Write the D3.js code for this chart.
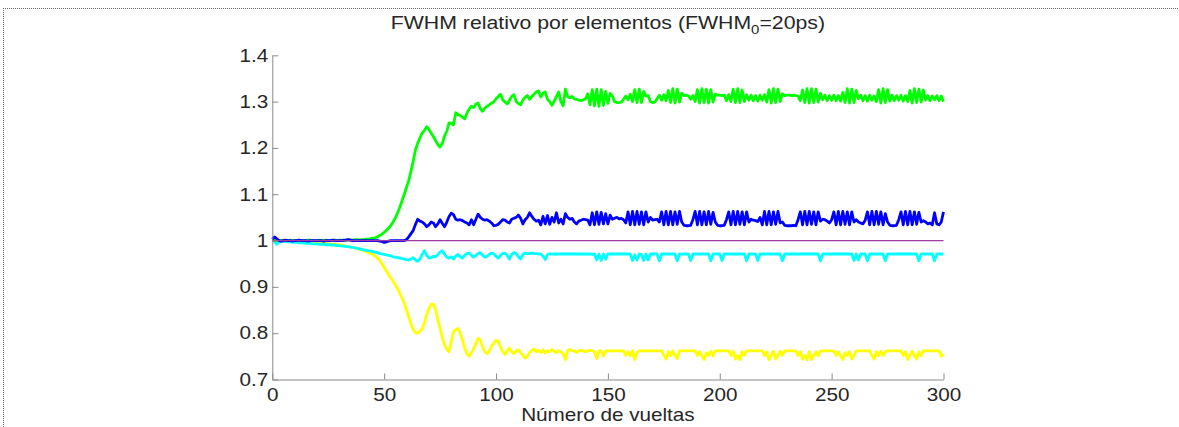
<!DOCTYPE html>
<html>
<head>
<meta charset="utf-8">
<script src="https://cdn.jsdelivr.net/npm/d3@7"></script>
<style>
  body { margin: 0; background: #fff; }
  svg text { font-family: "Liberation Sans", Arial, sans-serif; fill: #262626; }
</style>
</head>
<body>
<div id="chart"></div>
<script>
// vueltas 0..300
const turns = d3.range(0, 301);

const green = [
  1.000,1.001,1.001,1.000,1.000,1.001,1.000,1.000,1.001,1.000,
  1.000,1.000,1.001,1.000,1.000,1.000,1.001,1.001,1.000,1.000,
  1.000,1.001,1.000,1.000,1.001,1.000,1.000,1.001,1.001,1.000,
  1.001,1.001,1.000,1.001,1.002,1.001,1.001,1.002,1.002,1.001,
  1.002,1.002,1.003,1.003,1.004,1.005,1.006,1.008,1.011,1.014,
  1.018,1.022,1.027,1.033,1.040,1.049,1.060,1.072,1.086,1.100,
  1.115,1.130,1.150,1.172,1.196,1.210,1.222,1.232,1.238,1.246,
  1.240,1.232,1.224,1.216,1.207,1.202,1.210,1.226,1.236,1.254,
  1.253,1.250,1.276,1.272,1.270,1.266,1.263,1.275,1.284,1.290,
  1.287,1.295,1.297,1.284,1.279,1.286,1.290,1.293,1.297,1.299,
  1.306,1.311,1.316,1.304,1.299,1.295,1.303,1.311,1.315,1.300,
  1.296,1.293,1.303,1.309,1.313,1.305,1.311,1.316,1.321,1.323,
  1.310,1.318,1.321,1.305,1.300,1.292,1.301,1.311,1.321,1.300,
  1.291,1.327,1.311,1.308,1.311,1.306,1.305,1.303,1.302,1.304,
  1.306,1.317,1.293,1.326,1.291,1.327,1.290,1.326,1.292,1.322,
  1.296,1.318,1.312,1.300,1.298,1.298,1.299,1.305,1.312,1.304,
  1.316,1.300,1.326,1.298,1.327,1.298,1.322,1.312,1.313,1.300,
  1.298,1.299,1.306,1.314,1.303,1.315,1.302,1.324,1.298,1.328,
  1.297,1.327,1.299,1.318,1.313,1.314,1.312,1.305,1.313,1.300,
  1.326,1.297,1.328,1.298,1.327,1.297,1.326,1.299,1.316,1.314,
  1.314,1.313,1.314,1.302,1.315,1.300,1.327,1.298,1.328,1.298,
  1.325,1.300,1.315,1.303,1.314,1.302,1.313,1.301,1.314,1.303,
  1.315,1.299,1.326,1.297,1.328,1.298,1.327,1.300,1.317,1.313,
  1.314,1.314,1.313,1.314,1.313,1.312,1.302,1.325,1.298,1.328,
  1.297,1.328,1.298,1.327,1.299,1.318,1.304,1.314,1.302,1.313,
  1.303,1.314,1.302,1.313,1.301,1.320,1.298,1.328,1.297,1.327,
  1.298,1.324,1.306,1.314,1.302,1.313,1.301,1.314,1.303,1.312,
  1.300,1.326,1.297,1.328,1.298,1.326,1.301,1.314,1.302,1.313,
  1.303,1.314,1.301,1.313,1.300,1.324,1.297,1.328,1.298,1.327,
  1.299,1.325,1.303,1.313,1.302,1.312,1.304,1.313,1.302,1.312,
  1.300
];

const blue = [
  1.003,1.008,1.004,1.000,0.999,1.000,1.001,1.000,1.000,0.999,
  1.000,1.000,1.001,1.000,1.000,1.000,0.999,1.000,1.000,1.000,
  1.000,1.000,1.000,0.999,1.000,1.000,1.000,1.001,1.000,1.000,
  1.000,1.000,1.001,1.001,1.002,1.001,1.000,1.000,1.000,1.000,
  1.000,1.000,1.000,1.000,1.000,1.000,1.000,1.000,0.999,0.998,
  0.996,0.997,0.999,1.000,1.000,1.000,1.000,1.000,1.000,1.000,
  1.002,1.008,1.015,1.022,1.035,1.046,1.042,1.040,1.036,1.030,
  1.034,1.040,1.038,1.030,1.036,1.045,1.037,1.030,1.040,1.052,
  1.059,1.056,1.046,1.044,1.045,1.043,1.040,1.038,1.034,1.045,
  1.034,1.046,1.057,1.050,1.046,1.044,1.045,1.042,1.038,1.032,
  1.033,1.035,1.040,1.045,1.044,1.040,1.038,1.046,1.048,1.050,
  1.055,1.048,1.036,1.045,1.050,1.060,1.052,1.046,1.042,1.044,
  1.034,1.052,1.036,1.054,1.035,1.050,1.040,1.060,1.038,1.046,
  1.036,1.058,1.050,1.046,1.048,1.040,1.036,1.042,1.044,1.046,
  1.045,1.044,1.034,1.060,1.034,1.062,1.035,1.061,1.036,1.058,
  1.036,1.055,1.046,1.048,1.050,1.047,1.048,1.045,1.038,1.062,
  1.034,1.063,1.034,1.063,1.035,1.062,1.034,1.062,1.040,1.050,
  1.044,1.045,1.046,1.040,1.062,1.034,1.063,1.034,1.063,1.034,
  1.062,1.035,1.063,1.040,1.033,1.032,1.032,1.033,1.045,1.063,
  1.034,1.063,1.034,1.062,1.034,1.063,1.035,1.061,1.040,1.033,
  1.032,1.032,1.033,1.045,1.062,1.034,1.063,1.034,1.063,1.035,
  1.062,1.034,1.062,1.040,1.046,1.044,1.043,1.041,1.050,1.034,
  1.063,1.034,1.063,1.034,1.062,1.035,1.063,1.038,1.040,1.033,
  1.032,1.032,1.032,1.033,1.032,1.045,1.062,1.034,1.063,1.034,
  1.063,1.035,1.062,1.034,1.062,1.042,1.046,1.045,1.042,1.038,
  1.045,1.062,1.034,1.063,1.034,1.063,1.035,1.062,1.034,1.062,
  1.040,1.045,1.040,1.038,1.036,1.044,1.062,1.034,1.063,1.034,
  1.063,1.035,1.062,1.034,1.058,1.040,1.033,1.032,1.032,1.033,
  1.045,1.062,1.034,1.063,1.034,1.063,1.034,1.062,1.035,1.061,
  1.040,1.043,1.040,1.036,1.038,1.034,1.060,1.036,1.034,1.040,
  1.062
];

const cyan = [
  1.000,0.998,0.992,0.997,0.999,0.998,0.998,0.997,0.997,0.996,
  0.996,0.996,0.995,0.995,0.995,0.994,0.994,0.994,0.993,0.993,
  0.993,0.992,0.992,0.992,0.991,0.991,0.991,0.990,0.990,0.989,
  0.989,0.988,0.988,0.987,0.987,0.986,0.985,0.984,0.983,0.982,
  0.981,0.980,0.979,0.978,0.977,0.976,0.975,0.974,0.972,0.971,
  0.970,0.969,0.968,0.967,0.965,0.964,0.963,0.962,0.961,0.960,
  0.959,0.958,0.960,0.963,0.958,0.955,0.960,0.970,0.978,0.968,
  0.962,0.963,0.966,0.965,0.970,0.975,0.978,0.970,0.964,0.962,
  0.965,0.960,0.967,0.970,0.965,0.962,0.968,0.972,0.973,0.968,
  0.964,0.968,0.972,0.974,0.968,0.964,0.966,0.970,0.973,0.972,
  0.966,0.962,0.968,0.972,0.973,0.968,0.960,0.970,0.974,0.972,
  0.965,0.960,0.970,0.973,0.972,0.972,0.973,0.972,0.972,0.971,
  0.971,0.966,0.959,0.970,0.971,0.971,0.971,0.971,0.971,0.971,
  0.971,0.971,0.971,0.971,0.971,0.971,0.971,0.971,0.971,0.971,
  0.971,0.971,0.971,0.970,0.971,0.958,0.971,0.957,0.971,0.960,
  0.971,0.971,0.971,0.971,0.971,0.971,0.971,0.971,0.971,0.971,
  0.971,0.957,0.969,0.958,0.971,0.970,0.957,0.971,0.958,0.971,
  0.971,0.971,0.971,0.956,0.971,0.971,0.971,0.971,0.971,0.971,
  0.971,0.956,0.971,0.970,0.971,0.971,0.971,0.957,0.971,0.971,
  0.971,0.971,0.971,0.971,0.971,0.971,0.956,0.971,0.971,0.971,
  0.971,0.957,0.971,0.971,0.971,0.971,0.971,0.971,0.971,0.971,
  0.971,0.971,0.956,0.971,0.971,0.971,0.971,0.957,0.971,0.971,
  0.971,0.971,0.971,0.971,0.971,0.971,0.971,0.971,0.956,0.971,
  0.971,0.971,0.971,0.971,0.971,0.971,0.971,0.971,0.971,0.971,
  0.971,0.971,0.971,0.971,0.971,0.956,0.971,0.971,0.971,0.971,
  0.971,0.971,0.971,0.971,0.971,0.971,0.971,0.971,0.971,0.971,
  0.957,0.971,0.958,0.971,0.971,0.971,0.956,0.971,0.971,0.971,
  0.971,0.971,0.971,0.971,0.956,0.971,0.971,0.971,0.971,0.971,
  0.971,0.971,0.971,0.971,0.971,0.971,0.971,0.971,0.971,0.956,
  0.971,0.971,0.971,0.971,0.971,0.971,0.956,0.971,0.971,0.971,
  0.971
];

const yellow = [
  1.000,0.999,1.000,0.999,0.999,0.999,0.999,0.998,0.998,0.998,
  0.998,0.998,0.997,0.997,0.997,0.997,0.996,0.996,0.996,0.995,
  0.995,0.995,0.994,0.994,0.994,0.993,0.993,0.992,0.992,0.991,
  0.991,0.990,0.989,0.988,0.987,0.986,0.985,0.984,0.983,0.981,
  0.980,0.978,0.976,0.974,0.972,0.970,0.966,0.962,0.957,0.950,
  0.942,0.934,0.926,0.919,0.912,0.904,0.896,0.886,0.876,0.864,
  0.850,0.835,0.820,0.808,0.801,0.800,0.805,0.809,0.822,0.840,
  0.853,0.862,0.863,0.850,0.828,0.811,0.790,0.775,0.765,0.760,
  0.782,0.803,0.808,0.810,0.800,0.785,0.768,0.755,0.750,0.758,
  0.766,0.778,0.789,0.785,0.770,0.760,0.756,0.762,0.772,0.778,
  0.785,0.782,0.770,0.760,0.754,0.762,0.768,0.760,0.756,0.762,
  0.764,0.758,0.752,0.746,0.750,0.758,0.762,0.766,0.760,0.763,
  0.758,0.764,0.757,0.762,0.760,0.765,0.761,0.758,0.762,0.760,
  0.756,0.743,0.762,0.765,0.762,0.762,0.758,0.762,0.763,0.762,
  0.760,0.762,0.763,0.762,0.760,0.745,0.762,0.762,0.750,0.762,
  0.762,0.762,0.762,0.762,0.762,0.762,0.762,0.762,0.752,0.760,
  0.751,0.762,0.743,0.758,0.762,0.762,0.762,0.762,0.762,0.762,
  0.762,0.762,0.762,0.762,0.762,0.752,0.744,0.760,0.751,0.762,
  0.752,0.745,0.762,0.762,0.762,0.762,0.762,0.762,0.762,0.762,
  0.752,0.760,0.751,0.743,0.758,0.752,0.761,0.751,0.762,0.762,
  0.762,0.762,0.762,0.762,0.762,0.752,0.761,0.744,0.752,0.743,
  0.760,0.752,0.762,0.762,0.762,0.762,0.762,0.762,0.762,0.762,
  0.752,0.760,0.743,0.752,0.761,0.744,0.752,0.761,0.752,0.762,
  0.762,0.762,0.762,0.762,0.762,0.752,0.760,0.744,0.752,0.743,
  0.760,0.743,0.752,0.760,0.751,0.762,0.762,0.762,0.762,0.762,
  0.762,0.762,0.752,0.760,0.751,0.743,0.758,0.752,0.760,0.744,
  0.752,0.762,0.762,0.762,0.762,0.762,0.762,0.762,0.752,0.744,
  0.760,0.751,0.761,0.752,0.760,0.762,0.762,0.762,0.762,0.762,
  0.762,0.762,0.752,0.760,0.743,0.752,0.761,0.752,0.744,0.760,
  0.751,0.762,0.762,0.762,0.762,0.762,0.762,0.762,0.762,0.750,
  0.755
];

// referencia (linea morada constante)
const refTurns = [0, 300];
const purple = [1, 1];

const xTicks = [0, 50, 100, 150, 200, 250, 300];
const yTicks = [0.7, 0.8, 0.9, 1.0, 1.1, 1.2, 1.3, 1.4];

const width = 1179, height = 427;
const stretch = 1.15;

const svg = d3.select("#chart").append("svg")
    .attr("width", width)
    .attr("height", height);

// marco punteado
svg.append("line")
    .attr("x1", 3).attr("x2", width).attr("y1", 8.5).attr("y2", 8.5)
    .style("stroke", "#666").style("stroke-dasharray", "1,1");
svg.append("line")
    .attr("x1", 3.5).attr("x2", 3.5).attr("y1", 8).attr("y2", height)
    .style("stroke", "#666").style("stroke-dasharray", "1,1");

const x = d3.scaleLinear().domain([0, 300]).range([272.3, 943.5]);
const y = d3.scaleLinear().domain([0.7, 1.4]).range([379.5, 55.3]);

const line = d3.line()
    .x(d => x(d[0]))
    .y(d => y(d[1]));

const series = [
    { name: "yellow", color: "#ffff00", w: 2.8, xs: turns, ys: yellow },
    { name: "cyan", color: "#00ffff", w: 2.8, xs: turns, ys: cyan },
    { name: "green", color: "#00ff00", w: 2.8, xs: turns, ys: green },
    { name: "blue", color: "#0000ff", w: 2.8, xs: turns, ys: blue },
    { name: "purple", color: "#a03ca0", w: 1.3, xs: refTurns, ys: purple }
];

svg.selectAll(".serie")
    .data(series)
    .enter()
    .append("path")
    .attr("class", "serie")
    .attr("d", s => line(s.xs.map((t, i) => [t, s.ys[i]])))
    .style("fill", "none")
    .style("stroke", s => s.color)
    .style("stroke-width", s => s.w)
    .style("stroke-linejoin", "round");

// ejes
const fmt = d => (d === 1 ? "1" : d3.format(".1f")(d));

const gx = svg.append("g")
    .attr("transform", `translate(0,${y.range()[0]})`)
    .call(d3.axisBottom(x).tickValues(xTicks).tickSizeInner(-6).tickSizeOuter(0).tickPadding(9));

const gy = svg.append("g")
    .attr("transform", `translate(${x.range()[0]},0)`)
    .call(d3.axisLeft(y).tickValues(yTicks).tickFormat(fmt).tickSizeInner(-6).tickSizeOuter(0).tickPadding(4));

[gx, gy].forEach(g => {
    g.select(".domain").style("stroke", "#8a8a8a");
    g.selectAll(".tick line").style("stroke", "#8a8a8a");
    g.selectAll(".tick text")
        .style("font-size", "18px")
        .style("fill", "#262626")
        .attr("font-family", null);
});

// estirar los textos en horizontal como en la figura original
svg.selectAll(".tick text").each(function () {
    const t = d3.select(this);
    const tx = +t.attr("x") || 0;
    const ty = +t.attr("y") || 0;
    t.attr("x", 0).attr("y", 0)
        .attr("transform", `translate(${tx},${ty}) scale(${stretch},1)`);
});

const cx = (x.range()[0] + x.range()[1]) / 2;

const title = svg.append("text")
    .attr("text-anchor", "middle")
    .attr("transform", `translate(${cx},29) scale(${stretch},1)`)
    .style("font-size", "18.5px");
title.append("tspan").text("FWHM relativo por elementos (FWHM");
title.append("tspan").attr("dy", 5).style("font-size", "13px").text("0");
title.append("tspan").attr("dy", -5).text("=20ps)");

svg.append("text")
    .attr("text-anchor", "middle")
    .attr("transform", `translate(${cx},421) scale(${stretch},1)`)
    .style("font-size", "18px")
    .text("Número de vueltas");
</script>
</body>
</html>
